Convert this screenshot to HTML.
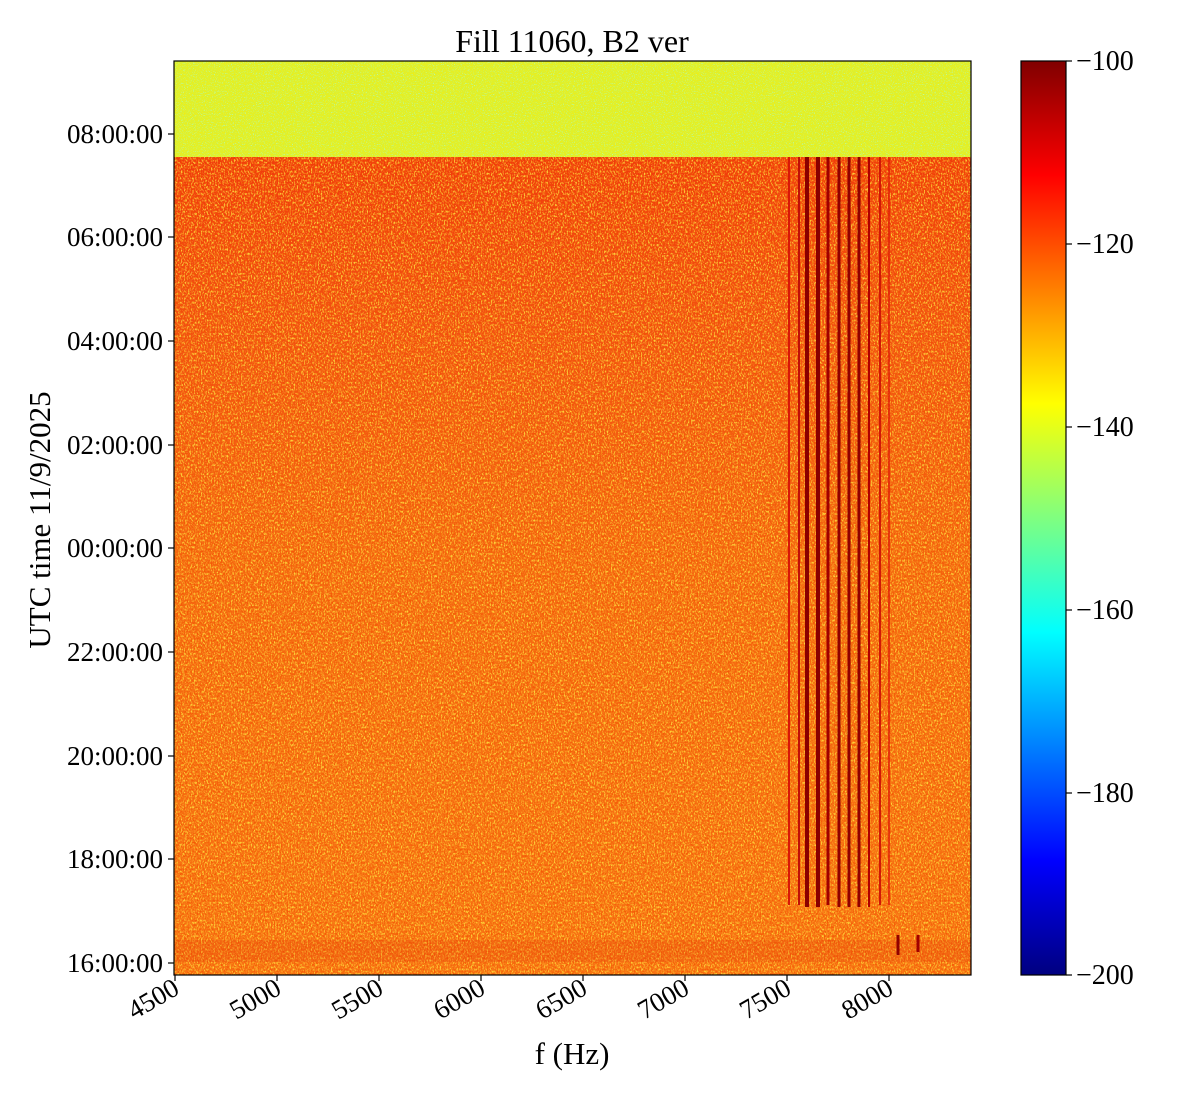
<!DOCTYPE html>
<html><head><style>
body{margin:0;background:#fff;}
svg{display:block;font-family:"Liberation Serif",serif;}
</style></head><body>
<svg width="1200" height="1100" xmlns="http://www.w3.org/2000/svg">
<defs>
<filter id="nY" x="0" y="0" width="100%" height="100%">
<feTurbulence type="fractalNoise" baseFrequency="0.7 0.45" numOctaves="2" seed="3"/>
<feColorMatrix type="matrix" values="0 0 0 0 1  0 0 0 0 0.78  0 0 0 0 0.05  4 0 0 0 -1.85"/>
</filter>
<filter id="nR" x="0" y="0" width="100%" height="100%">
<feTurbulence type="fractalNoise" baseFrequency="0.7 0.45" numOctaves="2" seed="11"/>
<feColorMatrix type="matrix" values="0 0 0 0 0.9  0 0 0 0 0.08  0 0 0 0 0.0  4 0 0 0 -1.85"/>
</filter>
<filter id="nC" x="0" y="0" width="100%" height="100%">
<feTurbulence type="fractalNoise" baseFrequency="0.9" numOctaves="2" seed="5"/>
<feColorMatrix type="matrix" values="0 0 0 0 0.4  0 0 0 0 1  0 0 0 0 0.6  5 0 0 0 -3.0"/>
</filter>
<filter id="nO" x="0" y="0" width="100%" height="100%">
<feTurbulence type="fractalNoise" baseFrequency="0.9" numOctaves="2" seed="8"/>
<feColorMatrix type="matrix" values="0 0 0 0 1  0 0 0 0 0.85  0 0 0 0 0.0  4 0 0 0 -1.9"/>
</filter>
<linearGradient id="cb" x1="0" y1="0" x2="0" y2="1">
<stop offset="0" stop-color="#800000"/>
<stop offset="0.125" stop-color="#ff0000"/>
<stop offset="0.375" stop-color="#ffff00"/>
<stop offset="0.625" stop-color="#00ffff"/>
<stop offset="0.875" stop-color="#0000ff"/>
<stop offset="1" stop-color="#000080"/>
</linearGradient>
<linearGradient id="mg" x1="0" y1="0" x2="0" y2="1">
<stop offset="0" stop-color="#f03a0c"/>
<stop offset="0.2" stop-color="#f25012"/>
<stop offset="0.5" stop-color="#f56a12"/>
<stop offset="1" stop-color="#f87414"/>
</linearGradient>
</defs>
<text x="572" y="52" font-size="32" text-anchor="middle">Fill 11060, B2 ver</text>
<rect x="174" y="61" width="797" height="96" fill="#dcf030"/>
<rect x="174" y="61" width="797" height="96" filter="url(#nO)" opacity="0.7"/>
<rect x="174" y="61" width="797" height="96" filter="url(#nC)"/>
<rect x="174" y="157" width="797" height="818" fill="url(#mg)"/>
<rect x="174" y="157" width="797" height="818" filter="url(#nY)" opacity="0.85"/>
<rect x="174" y="157" width="797" height="818" filter="url(#nR)" opacity="0.7"/>
<rect x="174" y="940" width="797" height="22" fill="#e0300a" opacity="0.2"/>
<g stroke-width="3">
<line x1="789" y1="157" x2="789" y2="905" stroke="#d81808" stroke-width="2"/>
<line x1="799" y1="157" x2="799" y2="905" stroke="#c01008" stroke-width="2"/>
<line x1="807" y1="157" x2="807" y2="907" stroke="#8a0000" stroke-width="4"/>
<line x1="818" y1="157" x2="818" y2="907" stroke="#8a0000" stroke-width="4"/>
<line x1="828" y1="157" x2="828" y2="905" stroke="#a00000"/>
<line x1="839" y1="157" x2="839" y2="907" stroke="#900000"/>
<line x1="849" y1="157" x2="849" y2="907" stroke="#900000"/>
<line x1="859" y1="157" x2="859" y2="907" stroke="#900000"/>
<line x1="869" y1="157" x2="869" y2="907" stroke="#b00000" stroke-width="2"/>
<line x1="880" y1="157" x2="880" y2="905" stroke="#d01808" stroke-width="2"/>
<line x1="889" y1="157" x2="889" y2="905" stroke="#e02008" stroke-width="1.5"/>
<line x1="898" y1="935" x2="898" y2="955" stroke="#900000"/>
<line x1="918" y1="935" x2="918" y2="952" stroke="#a00000"/>
</g>
<rect x="174" y="61" width="797" height="914" fill="none" stroke="#000" stroke-width="1.2"/>
<g font-size="27" text-anchor="end">
<g stroke="#000" stroke-width="1.2">
<line x1="168" y1="134" x2="174" y2="134"/><line x1="168" y1="237" x2="174" y2="237"/>
<line x1="168" y1="341" x2="174" y2="341"/><line x1="168" y1="445" x2="174" y2="445"/>
<line x1="168" y1="548" x2="174" y2="548"/><line x1="168" y1="652" x2="174" y2="652"/>
<line x1="168" y1="756" x2="174" y2="756"/><line x1="168" y1="859" x2="174" y2="859"/>
<line x1="168" y1="963" x2="174" y2="963"/>
</g>
<text x="163" y="143">08:00:00</text><text x="163" y="246">06:00:00</text>
<text x="163" y="350">04:00:00</text><text x="163" y="454">02:00:00</text>
<text x="163" y="557">00:00:00</text><text x="163" y="661">22:00:00</text>
<text x="163" y="765">20:00:00</text><text x="163" y="868">18:00:00</text>
<text x="163" y="972">16:00:00</text>
</g>
<text transform="translate(50,520) rotate(-90)" font-size="31" text-anchor="middle">UTC time 11/9/2025</text>
<g stroke="#000" stroke-width="1.2">
<line x1="175" y1="975" x2="175" y2="981"/><line x1="277" y1="975" x2="277" y2="981"/>
<line x1="379" y1="975" x2="379" y2="981"/><line x1="481" y1="975" x2="481" y2="981"/>
<line x1="583" y1="975" x2="583" y2="981"/><line x1="685" y1="975" x2="685" y2="981"/>
<line x1="787" y1="975" x2="787" y2="981"/><line x1="889" y1="975" x2="889" y2="981"/>
</g>
<g font-size="27" text-anchor="end">
<text transform="translate(181,993) rotate(-30)">4500</text>
<text transform="translate(283,993) rotate(-30)">5000</text>
<text transform="translate(385,993) rotate(-30)">5500</text>
<text transform="translate(487,993) rotate(-30)">6000</text>
<text transform="translate(589,993) rotate(-30)">6500</text>
<text transform="translate(691,993) rotate(-30)">7000</text>
<text transform="translate(793,993) rotate(-30)">7500</text>
<text transform="translate(895,993) rotate(-30)">8000</text>
</g>
<text x="572" y="1064" font-size="31" text-anchor="middle">f (Hz)</text>
<rect x="1021" y="61" width="45" height="914" fill="url(#cb)" stroke="#000" stroke-width="1.2"/>
<g stroke="#000" stroke-width="1.2">
<line x1="1066" y1="61" x2="1072" y2="61"/><line x1="1066" y1="244" x2="1072" y2="244"/>
<line x1="1066" y1="427" x2="1072" y2="427"/><line x1="1066" y1="610" x2="1072" y2="610"/>
<line x1="1066" y1="793" x2="1072" y2="793"/><line x1="1066" y1="975" x2="1072" y2="975"/>
</g>
<g font-size="28">
<text x="1076" y="70">−100</text><text x="1076" y="253">−120</text>
<text x="1076" y="436">−140</text><text x="1076" y="619">−160</text>
<text x="1076" y="802">−180</text><text x="1076" y="984">−200</text>
</g>
</svg>
</body></html>
